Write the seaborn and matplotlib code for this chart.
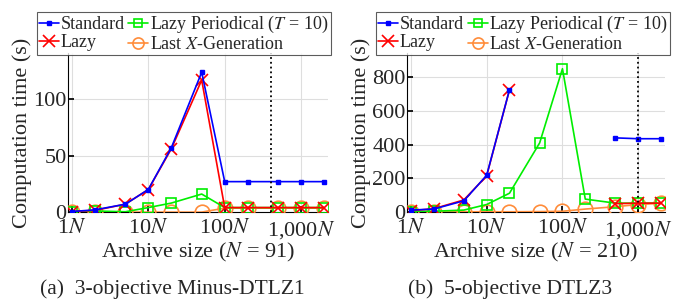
import numpy as np
import pandas as pd
import matplotlib
matplotlib.use('Agg')
import matplotlib.pyplot as plt
import matplotlib.ticker as mticker
from matplotlib.lines import Line2D
import seaborn as sns

sns.set_theme(style='white')
plt.rcParams.update({
    'font.family':      ['Liberation Serif', 'DejaVu Serif'],
    'mathtext.fontset': 'stix',
    'axes.edgecolor':   'black',
    'axes.linewidth':   0.8,
})

BLUE   = '#0000ff'
GREEN  = '#00ee00'
RED    = '#ff0000'
ORANGE = '#ff8c3a'

# ── Data ──────────────────────────────────────────────────────────────────────
archive_mult = [1, 2, 5, 10, 20, 50, 100, 200, 500, 1000, 2000]

# (a) 3-objective Minus-DTLZ1, N = 91
standard_a = [0.5, 2, 7, 20, 57, 124, 27, 27, 27, 27, 27]
lazy_a     = [0.5, 1.5, 7, 20, 56, 117, 4, 4, 4, 4, 4]
periodic_a = [0.5, 1, 0.3, 4, 8, 16, 4, 4, 4, 4, 4]
lastx_a    = [0, 0, 0, 0, 0, 0, 3.5, 3.5, 3.5, 3.5, 3.5]

# (b) 5-objective DTLZ3, N = 210
standard_b = [12, 18, 67, 218, 725, np.nan, np.nan, np.nan, 440, 435, 435]
lazy_b     = [8, 20, 72, 215, 725, np.nan, np.nan, np.nan, 50, 53, 53]
periodic_b = [3, 5, 12, 45, 112, 410, 850, 77, 53, 53, 53]
lastx_b    = [2, 2, 2, 2, 2, 3, 5, 18, 32, 45, 52]

xtick_vals   = [1, 10, 100, 1000]
xtick_labels = ['1$N$', '10$N$', '100$N$', '1,000$N$']

panels = [
    dict(standard=standard_a, lazy=lazy_a, periodic=periodic_a, lastx=lastx_a,
         n=91, vline=400, ylim=(0, 141), yticks=[0, 50, 100],
         caption='(a)  3-objective Minus-DTLZ1', cap_x=0.247),
    dict(standard=standard_b, lazy=lazy_b, periodic=periodic_b, lastx=lastx_b,
         n=210, vline=1000, ylim=(0, 943), yticks=[0, 200, 400, 600, 800],
         caption='(b)  5-objective DTLZ3', cap_x=0.732),
]

styles = {
    'standard': dict(color=BLUE, marker='s', ms=3.5, mfc=BLUE, mec=BLUE, mew=1),
    'periodic': dict(color=GREEN, marker='s', ms=7, mfc='none', mec=GREEN, mew=1.2),
    'lastx':    dict(color=ORANGE, marker='o', ms=10.5, mfc='none', mec=ORANGE, mew=1.2),
    'lazy':     dict(color=RED, marker='x', ms=8, mfc=RED, mec=RED, mew=1.2),
}
draw_order = ['lastx', 'periodic', 'lazy', 'standard']


def segments(vals):
    # split a series at NaNs so gaps are not bridged
    seg, out = 0, []
    for v in vals:
        if np.isnan(v):
            seg += 1
            out.append(np.nan)
        else:
            out.append(seg)
    return out


fig = plt.figure(figsize=(6.97, 3.03), dpi=100)
ax_pos = [[0.0976, 0.300, 0.373, 0.525], [0.584, 0.300, 0.370, 0.525]]

for pos, p in zip(ax_pos, panels):
    ax = fig.add_axes(pos)
    for key in draw_order:
        vals = np.array(p[key], dtype=float)
        df = pd.DataFrame({'x': archive_mult, 'y': vals, 'seg': segments(vals)}).dropna()
        sns.lineplot(data=df, x='x', y='y', units='seg', estimator=None, ax=ax,
                     lw=1.2, legend=False, zorder=3, **styles[key])
    ax.axvline(p['vline'], color='black', ls=':', lw=1.3, zorder=4)

    ax.set_xscale('log')
    ax.set_xlim(0.89, 2250)
    ax.set_ylim(*p['ylim'])
    ax.set_yticks(p['yticks'])
    ax.set_xticks(xtick_vals)
    ax.set_xticklabels(xtick_labels)
    ax.xaxis.set_minor_locator(mticker.LogLocator(base=10, subs=np.arange(2, 10)))
    ax.xaxis.set_minor_formatter(mticker.NullFormatter())
    ax.grid(True, which='major', color='#dedede', lw=0.8)
    ax.grid(True, which='minor', axis='x', color='#ebebeb', lw=0.7)
    ax.tick_params(axis='both', which='major', direction='in', length=4,
                   labelsize=16, color='black', bottom=True, left=True)
    ax.tick_params(axis='x', which='major', pad=5)
    ax.tick_params(axis='y', which='major', pad=1)
    ax.tick_params(axis='x', which='minor', direction='in', length=2, bottom=True)
    for side in ['top', 'right']:
        ax.spines[side].set_visible(False)
    ax.set_xlabel(f'Archive size ($N$ = {p["n"]})', fontsize=16, labelpad=0)
    ax.set_ylabel('Computation time (s)', fontsize=16, labelpad=1)

    handles = [
        Line2D([], [], lw=1.2, **styles['standard']),
        Line2D([], [], lw=1.2, **styles['lazy']),
        Line2D([], [], lw=1.2, **{**styles['periodic'], 'ms': 6}),
        Line2D([], [], lw=1.2, **{**styles['lastx'], 'ms': 8}),
    ]
    labels = ['Standard', 'Lazy', 'Lazy Periodical ($T$ = 10)', 'Last $X$-Generation']
    leg = ax.legend(handles, labels, ncol=2, loc='lower left',
                    bbox_to_anchor=(-0.12, 0.985, 1.12, 0.3), mode=None,
                    fontsize=13, frameon=True, fancybox=False, edgecolor='#333333',
                    handlelength=1.1, handletextpad=0.1, columnspacing=0.2,
                    labelspacing=0.05, borderpad=0.12, borderaxespad=0)
    leg.get_frame().set_linewidth(0.8)

    fig.text(p['cap_x'], 0.045, p['caption'], ha='center', va='center', fontsize=15.5)

fig.savefig('out.png', dpi=100)
